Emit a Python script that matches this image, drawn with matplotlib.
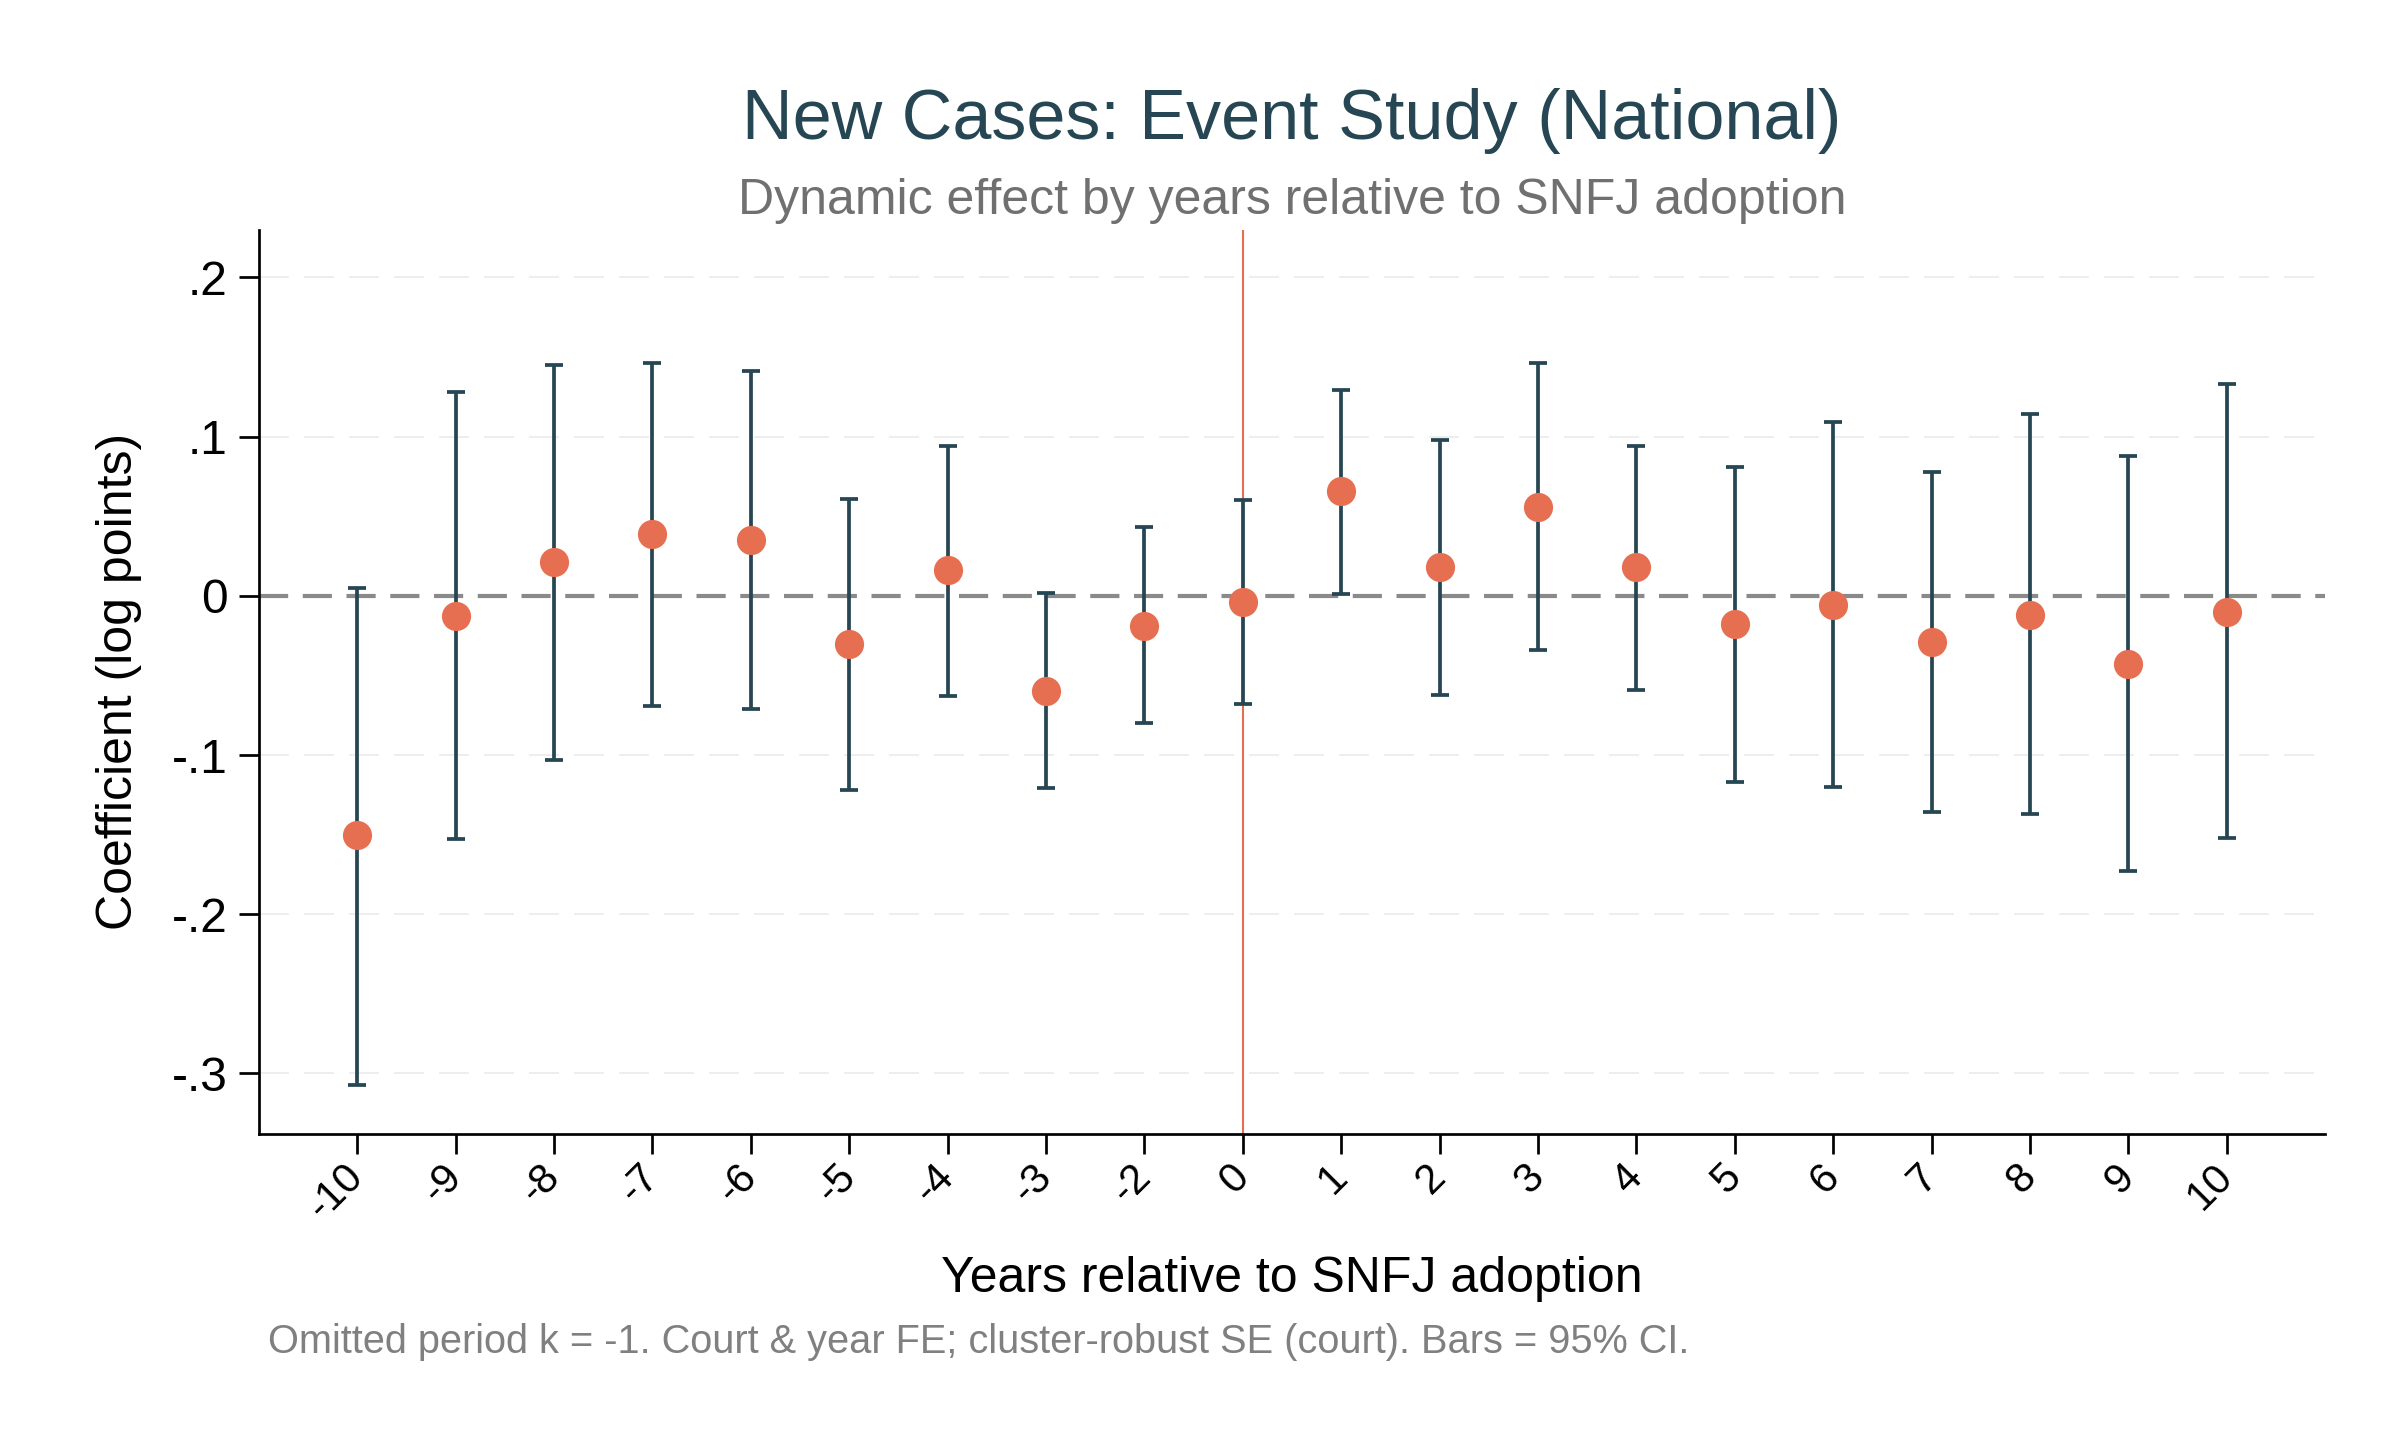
import matplotlib
matplotlib.use("Agg")
import matplotlib.pyplot as plt
import numpy as np

plt.rcParams['font.family'] = ['Liberation Sans', 'DejaVu Sans']

# Data
periods = [-10, -9, -8, -7, -6, -5, -4, -3, -2, 0, 1, 2, 3, 4, 5, 6, 7, 8, 9, 10]
coef = [-0.150, -0.013, 0.021, 0.039, 0.035, -0.030, 0.016, -0.060, -0.019, -0.004,
        0.066, 0.018, 0.056, 0.018, -0.018, -0.006, -0.029, -0.012, -0.043, -0.010]
ci_hi = [0.005, 0.128, 0.145, 0.146, 0.141, 0.061, 0.094, 0.002, 0.043, 0.060,
         0.129, 0.098, 0.146, 0.094, 0.081, 0.109, 0.078, 0.114, 0.088, 0.133]
ci_lo = [-0.307, -0.153, -0.103, -0.069, -0.071, -0.122, -0.063, -0.121, -0.080, -0.068,
         0.001, -0.062, -0.034, -0.059, -0.117, -0.120, -0.136, -0.137, -0.173, -0.152]
ytick_vals = [0.2, 0.1, 0.0, -0.1, -0.2, -0.3]
ytick_labels = ['.2', '.1', '0', '-.1', '-.2', '-.3']

title = "New Cases: Event Study (National)"
subtitle = "Dynamic effect by years relative to SNFJ adoption"
xlabel = "Years relative to SNFJ adoption"
ylabel = "Coefficient (log points)"
note = "Omitted period k = -1. Court & year FE; cluster-robust SE (court). Bars = 95% CI."

DARK = '#264653'
ORANGE = '#E76F51'

fig = plt.figure(figsize=(16, 9.6), dpi=150)
ax = fig.add_axes([0.1078, 0.2125, 0.9688 - 0.1078, 0.8406 - 0.2125])

x = np.arange(len(periods))
coef = np.array(coef)
lo = coef - np.array(ci_lo)
hi = np.array(ci_hi) - coef

ax.set_xlim(-1, len(periods))
ax.set_ylim(-0.338, 0.23)

# grid
for yv in ytick_vals:
    if yv != 0:
        ax.axhline(yv, color='#ebebeb', lw=0.8, ls=(0, (18, 9)), zorder=0)

ax.axhline(0, color='#8a8a8a', lw=2.0, ls=(0, (7, 3.5)), zorder=1)
zero_idx = periods.index(0)
ax.axvline(x[zero_idx], color=ORANGE, lw=1.0, zorder=1)

ax.errorbar(x, coef, yerr=[lo, hi], fmt='none', ecolor=DARK, elinewidth=1.8,
            capsize=4.5, capthick=1.8, zorder=2)
ax.plot(x, coef, 'o', color=ORANGE, markersize=14, markeredgewidth=0, zorder=3)

ax.set_yticks(ytick_vals)
ax.set_yticklabels(ytick_labels, fontsize=23)
ax.set_xticks(x)
ax.set_xticklabels([str(p) for p in periods], fontsize=20, rotation=45,
                   ha='right', va='center', rotation_mode='anchor')

ax.tick_params(axis='y', length=9.6, width=1.3, pad=5.5, colors='black')
ax.tick_params(axis='x', length=9.6, width=1.3, pad=8, colors='black')

for s in ['top', 'right']:
    ax.spines[s].set_visible(False)
for s in ['left', 'bottom']:
    ax.spines[s].set_linewidth(1.3)
    ax.spines[s].set_color('black')

ax.set_ylabel(ylabel, fontsize=24, labelpad=14)

cx = (0.1078 + 0.9688) / 2
fig.text(cx, 1 - 121 / 1440, title, ha='center', va='center', fontsize=33.7, color=DARK)
fig.text(cx, 1 - 201 / 1440, subtitle, ha='center', va='center', fontsize=24, color='#707070')
fig.text(cx, 1 - 1279 / 1440, xlabel, ha='center', va='center', fontsize=24, color='black')
fig.text(268 / 2400, 1 - 1342 / 1440, note, ha='left', va='center', fontsize=19.1, color='#808080')

fig.savefig('out.png', dpi=150, facecolor='white')
